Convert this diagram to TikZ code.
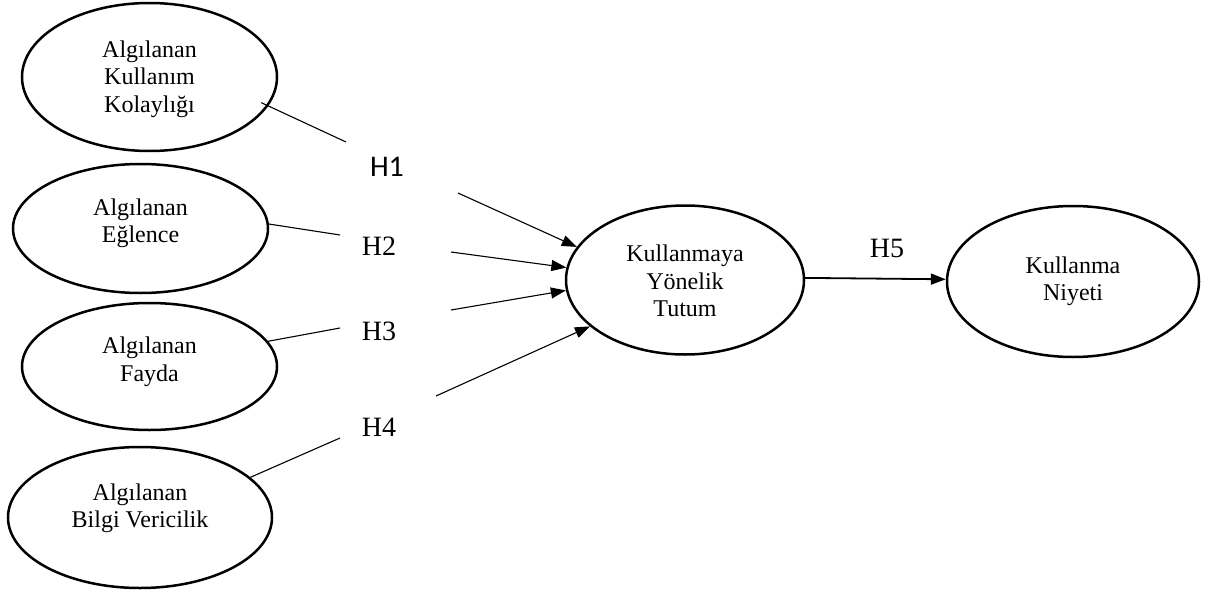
\documentclass[tikz,border=0pt]{standalone}
\usepackage{fontspec}
\setmainfont{Liberation Serif}
\newfontfamily\hfont{Carlito}
\usetikzlibrary{shapes.geometric,arrows.meta}
\begin{document}
\begin{tikzpicture}[x=1pt,y=-1pt,
  construct/.style={ellipse,draw,line width=2.5pt,inner sep=0pt},
  ctext/.style={align=center,inner sep=0pt,font=\fontsize{24}{27.5}\selectfont},
  link/.style={line width=1.1pt},
  arrowlink/.style={line width=1.1pt,-{Triangle[length=15pt,width=11pt]}},
  hyp/.style={font=\fontsize{28}{30}\selectfont,inner sep=0pt}]
\useasboundingbox (0,0) rectangle (1205,594);
% constructs
\node[construct,minimum width=255pt,minimum height=148pt] (e1) at (149.5,77) {};
\node[construct,minimum width=255pt,minimum height=129pt] (e2) at (140.5,228.5) {};
\node[construct,minimum width=255pt,minimum height=127pt] (e3) at (149.5,366.5) {};
\node[construct,minimum width=264pt,minimum height=141pt] (e4) at (140,517.5) {};
\node[construct,minimum width=238pt,minimum height=149pt] (e5) at (685,280) {};
\node[construct,minimum width=252pt,minimum height=151pt] (e6) at (1073,281.5) {};
% construct texts
\node[ctext] (t1) at (149.5,79) {Algılanan\\Kullanım\\Kolaylığı};
\node[ctext] (t2) at (140.5,223.5) {Algılanan\\Eğlence};
\node[ctext] (t3) at (149.5,362) {Algılanan\\Fayda};
\node[ctext] (t4) at (140,508.5) {Algılanan\\Bilgi Vericilik};
\node[ctext] (t5) at (685,281) {Kullanmaya\\Yönelik\\Tutum};
\node[ctext] (t6) at (1073,281.5) {Kullanma\\Niyeti};
% hypothesis labels
\node[hyp,font=\hfont\fontsize{30}{32}\selectfont] (h1) at (387,167) {H1};
\node[hyp] (h2) at (379,246) {H2};
\node[hyp] (h3) at (379,331) {H3};
\node[hyp] (h4) at (379,427) {H4};
\node[hyp] (h5) at (887,248) {H5};
% free ends
\coordinate (l1e) at (346,142);
\coordinate (l2e) at (340,235);
\coordinate (l3e) at (340,328);
\coordinate (l4e) at (340,438);
\coordinate (a1s) at (458,193);
\coordinate (a2s) at (451,252);
\coordinate (a3s) at (451,310);
\coordinate (a4s) at (436,396);
% connectors
\draw[link] ([shift={(-8pt,2pt)}]e1.-13) -- (l1e);
\draw[link] (e2.2) -- (l2e);
\draw[link] (e3.12) -- (l3e);
\draw[link] (e4.20) -- (l4e);
\draw[arrowlink] (a1s) -- (e5.163);
\draw[arrowlink] (a2s) -- (e5.174);
\draw[arrowlink] (a3s) -- (e5.185);
\draw[arrowlink] (a4s) -- (e5.206);
\draw[arrowlink,line width=1.8pt] (e5.1) -- (e6.179);
\end{tikzpicture}
\end{document}
